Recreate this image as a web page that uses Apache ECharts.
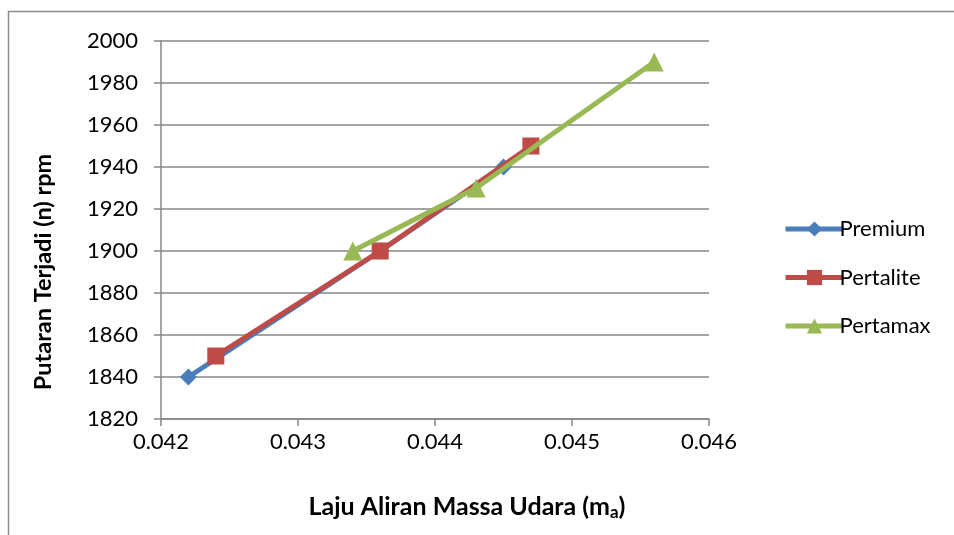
<!DOCTYPE html>
<html><head><meta charset="utf-8">
<script src="https://cdn.jsdelivr.net/npm/echarts@6/dist/echarts.min.js"></script>
<style>html,body{margin:0;padding:0;background:#fff}#c{width:954px;height:535px}</style>
</head><body><div id="c"></div>
<script>
const seriesNames = ['Premium', 'Pertalite', 'Pertamax'];
const premiumX = [0.0422, 0.0436, 0.0445];
const premiumY = [1840, 1900, 1940];
const pertaliteX = [0.0424, 0.0436, 0.0447];
const pertaliteY = [1850, 1900, 1950];
const pertamaxX = [0.0434, 0.0443, 0.0456];
const pertamaxY = [1900, 1930, 1990];
const colors = ['#4A7EBB', '#BE4B48', '#98B954'];
const symbols = ['diamond', 'rect', 'triangle'];
const symbolSizes = [17, 17, 19];
const xs = [premiumX, pertaliteX, pertamaxX];
const ys = [premiumY, pertaliteY, pertamaxY];

const font = 'Lato, "Open Sans", sans-serif';
const chart = echarts.init(document.getElementById('c'), null, {renderer: 'canvas'});
chart.setOption({
  animation: false,
  backgroundColor: '#fff',
  graphic: [{type: 'rect', shape: {x: 8.5, y: 11.5, width: 960, height: 540},
    style: {fill: 'none', stroke: '#8c8c8c', lineWidth: 1.5}, silent: true}],
  grid: {left: 161, right: 245, top: 41, bottom: 116, containLabel: false},
  legend: {
    orient: 'vertical', left: 778, top: 213, itemGap: 26.5,
    itemWidth: 58, itemHeight: 19,
    lineStyle: {width: 5},
    textStyle: {fontFamily: font, fontSize: 22, color: '#000', padding: [0, 0, 0, -9]},
    data: seriesNames
  },
  xAxis: {
    type: 'value', min: 0.042, max: 0.046, interval: 0.001,
    axisLine: {show: true, lineStyle: {color: '#868686', width: 1.5}},
    axisTick: {show: true, length: 7, lineStyle: {color: '#868686', width: 1.5}},
    splitLine: {show: false},
    axisLabel: {fontFamily: font, fontSize: 22, color: '#000', margin: 12,
      formatter: v => v.toFixed(3)},
    name: 'Laju Aliran Massa Udara (m{sub|a})',
    nameLocation: 'middle', nameGap: 73,
    nameTextStyle: {fontFamily: font, fontSize: 25, fontWeight: 'bold', color: '#000',
      padding: [0, 0, 0, 64],
      rich: {sub: {fontFamily: font, fontSize: 17, fontWeight: 'bold', color: '#000', verticalAlign: 'bottom', padding: [12, 0, 0, 0]}}}
  },
  yAxis: {
    type: 'value', min: 1820, max: 2000, interval: 20,
    axisLine: {show: true, lineStyle: {color: '#868686', width: 1.5}},
    axisTick: {show: true, length: 7, lineStyle: {color: '#868686', width: 1.5}},
    splitLine: {show: true, lineStyle: {color: '#868686', width: 1.5}},
    axisLabel: {fontFamily: font, fontSize: 22, color: '#000', margin: 23,
      formatter: v => String(v)},
    name: 'Putaran Terjadi (n) rpm',
    nameLocation: 'middle', nameGap: 106,
    nameTextStyle: {fontFamily: font, fontSize: 23.5, fontWeight: 'bold', color: '#000',
      padding: [0, 84, 0, 0]}
  },
  series: seriesNames.map((name, i) => ({
    name: name, type: 'line',
    data: xs[i].map((x, j) => [x, ys[i][j]]),
    symbol: symbols[i], symbolSize: symbolSizes[i],
    showAllSymbol: true,
    lineStyle: {color: colors[i], width: 5},
    itemStyle: {color: colors[i], borderWidth: 0},
    z: 2 + i
  }))
});
</script></body></html>
